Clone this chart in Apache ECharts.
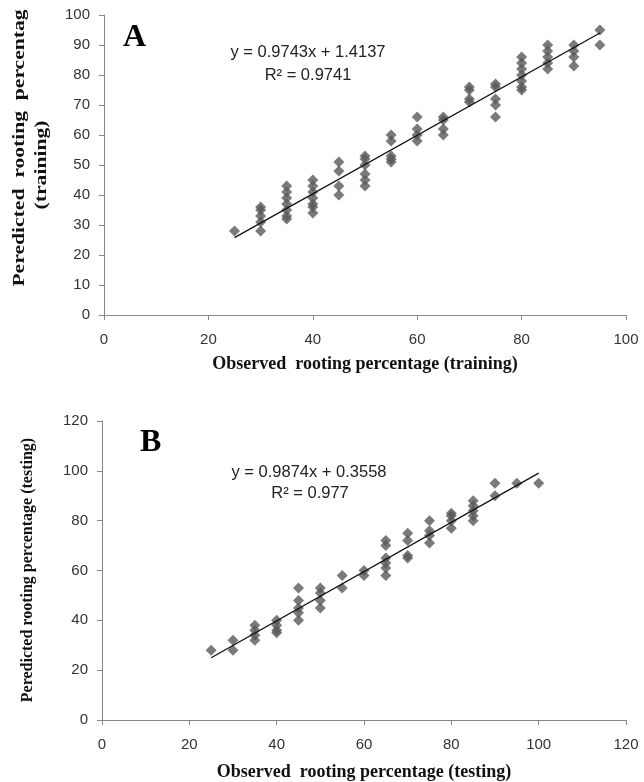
<!DOCTYPE html>
<html>
<head>
<meta charset="utf-8">
<script src="https://cdn.jsdelivr.net/npm/echarts@6/dist/echarts.min.js"></script>
<style>
  html, body { margin: 0; padding: 0; background: #fff; }
  #chart { width: 644px; height: 782px; }
</style>
</head>
<body>
<div id="chart"></div>
<script>
// A: training set, observed vs predicted rooting percentage
var obsA = [25,
  30, 30, 30, 30, 30,
  35, 35, 35, 35, 35, 35, 35,
  40, 40, 40, 40, 40, 40, 40,
  45, 45, 45, 45,
  50, 50, 50, 50, 50, 50,
  55, 55, 55, 55, 55,
  60, 60, 60, 60,
  65, 65, 65, 65,
  70, 70, 70, 70,
  75, 75, 75, 75, 75,
  80, 80, 80, 80, 80, 80, 80,
  85, 85, 85, 85, 85,
  90, 90, 90, 90,
  95, 95];
var predA = [28,
  28, 31, 33, 35, 36,
  32, 33, 35, 37, 39, 41, 43,
  34, 36, 37, 39, 41, 43, 45,
  40, 43, 48, 51,
  43, 45, 47, 50, 52, 53,
  51, 52, 53, 58, 60,
  58, 60, 62, 66,
  60, 62, 65, 66,
  71, 72, 75, 76,
  66, 70, 72, 76, 77,
  75, 76, 78, 80, 82, 84, 86,
  82, 84, 86, 88, 90,
  83, 86, 88, 90,
  90, 95];
// trend line end points (y = 0.9743x + 1.4137)
var trendA = [[25, 25.8], [95, 94.0]];

// B: testing set
var obsB = [25,
  30, 30,
  35, 35, 35, 35,
  40, 40, 40, 40,
  45, 45, 45, 45, 45,
  50, 50, 50, 50,
  55, 55,
  60, 60,
  65, 65, 65, 65, 65, 65,
  70, 70, 70, 70,
  75, 75, 75, 75,
  80, 80, 80, 80,
  85, 85, 85, 85, 85,
  90, 90,
  95,
  100];
var predB = [28,
  28, 32,
  32, 34, 36, 38,
  35, 36, 38, 40,
  40, 43, 45, 48, 53,
  45, 48, 51, 53,
  53, 58,
  58, 60,
  58, 61, 63, 65, 70, 72,
  65, 66, 72, 75,
  71, 74, 76, 80,
  77, 80, 82, 83,
  80, 82, 84, 86, 88,
  90, 95,
  95,
  95];
// trend line end points (y = 0.9874x + 0.3558)
var trendB = [[25, 25.0], [100, 99.1]];

function pairs(xs, ys) {
  var out = [];
  for (var i = 0; i < xs.length; i++) out.push([xs[i], ys[i]]);
  return out;
}

var axisLine = { lineStyle: { color: '#868686', width: 1 } };
var axisTick = { show: true, inside: false, length: 5, lineStyle: { color: '#868686' } };
var tickFont = { fontFamily: 'Liberation Sans', fontSize: 15, color: '#333' };
var nameFont = { fontFamily: 'Liberation Serif', fontWeight: 'bold', fontSize: 18, fill: '#111' };
var yNameFont = { fontFamily: 'Liberation Serif', fontWeight: 'bold', fontSize: 16, fill: '#111' };
var eqFont = { fontFamily: 'Liberation Sans', fontSize: 16.5, fill: '#222' };

var chart = echarts.init(document.getElementById('chart'));
chart.setOption({
  animation: false,
  backgroundColor: '#fff',
  grid: [
    { left: 104, top: 15, width: 522, height: 300 },
    { left: 102, top: 421, width: 524, height: 299 }
  ],
  xAxis: [
    { gridIndex: 0, type: 'value', min: 0, max: 100, interval: 20,
      axisLine: axisLine, axisTick: axisTick, splitLine: { show: false },
      axisLabel: Object.assign({ margin: 17 }, tickFont) },
    { gridIndex: 1, type: 'value', min: 0, max: 120, interval: 20,
      axisLine: axisLine, axisTick: axisTick, splitLine: { show: false },
      axisLabel: Object.assign({ margin: 17 }, tickFont) }
  ],
  yAxis: [
    { gridIndex: 0, type: 'value', min: 0, max: 100, interval: 10,
      axisLine: Object.assign({ show: true }, axisLine), axisTick: axisTick, splitLine: { show: false },
      axisLabel: Object.assign({ margin: 14 }, tickFont) },
    { gridIndex: 1, type: 'value', min: 0, max: 120, interval: 20,
      axisLine: Object.assign({ show: true }, axisLine), axisTick: axisTick, splitLine: { show: false },
      axisLabel: Object.assign({ margin: 14 }, tickFont) }
  ],
  series: [
    { type: 'scatter', xAxisIndex: 0, yAxisIndex: 0, symbol: 'diamond', symbolSize: 11,
      itemStyle: { color: '#595959' }, data: pairs(obsA, predA) },
    { type: 'line', xAxisIndex: 0, yAxisIndex: 0, symbol: 'none', z: 5,
      lineStyle: { color: '#111', width: 1.3 }, data: trendA },
    { type: 'scatter', xAxisIndex: 1, yAxisIndex: 1, symbol: 'diamond', symbolSize: 11,
      itemStyle: { color: '#595959' }, data: pairs(obsB, predB) },
    { type: 'line', xAxisIndex: 1, yAxisIndex: 1, symbol: 'none', z: 5,
      lineStyle: { color: '#111', width: 1.3 }, data: trendB }
  ],
  graphic: [
    // panel letters
    { type: 'text', left: 123, top: 22,
      style: { text: 'A', fontFamily: 'Liberation Serif', fontWeight: 'bold', fontSize: 32, fill: '#000' } },
    { type: 'text', left: 140, top: 427,
      style: { text: 'B', fontFamily: 'Liberation Serif', fontWeight: 'bold', fontSize: 32, fill: '#000' } },
    // regression equations
    { type: 'text', x: 308, y: 52, style: Object.assign({ text: 'y = 0.9743x + 1.4137', align: 'center', verticalAlign: 'middle' }, eqFont) },
    { type: 'text', x: 308, y: 75, style: Object.assign({ text: 'R² = 0.9741', align: 'center', verticalAlign: 'middle' }, eqFont) },
    { type: 'text', x: 309, y: 472, style: Object.assign({ text: 'y = 0.9874x + 0.3558', align: 'center', verticalAlign: 'middle' }, eqFont) },
    { type: 'text', x: 310, y: 493, style: Object.assign({ text: 'R² = 0.977', align: 'center', verticalAlign: 'middle' }, eqFont) },
    // axis titles
    { type: 'text', x: 365, y: 364, style: Object.assign({ text: 'Observed  rooting percentage (training)', align: 'center', verticalAlign: 'middle' }, nameFont) },
    { type: 'text', x: 364, y: 772, style: Object.assign({ text: 'Observed  rooting percentage (testing)', align: 'center', verticalAlign: 'middle' }, nameFont) },
    { type: 'text', x: 20, y: 148, rotation: Math.PI / 2, scaleX: 1.35,
      style: Object.assign({ text: 'Peredicted  rooting  percentag', align: 'center', verticalAlign: 'middle' }, yNameFont) },
    { type: 'text', x: 42, y: 165, rotation: Math.PI / 2, scaleX: 1.35,
      style: Object.assign({ text: '(training)', align: 'center', verticalAlign: 'middle' }, yNameFont) },
    { type: 'text', x: 28, y: 570, rotation: Math.PI / 2,
      style: Object.assign({ text: 'Peredicted rooting percentage (testing)', align: 'center', verticalAlign: 'middle' }, yNameFont) }
  ]
});
</script>
</body>
</html>
